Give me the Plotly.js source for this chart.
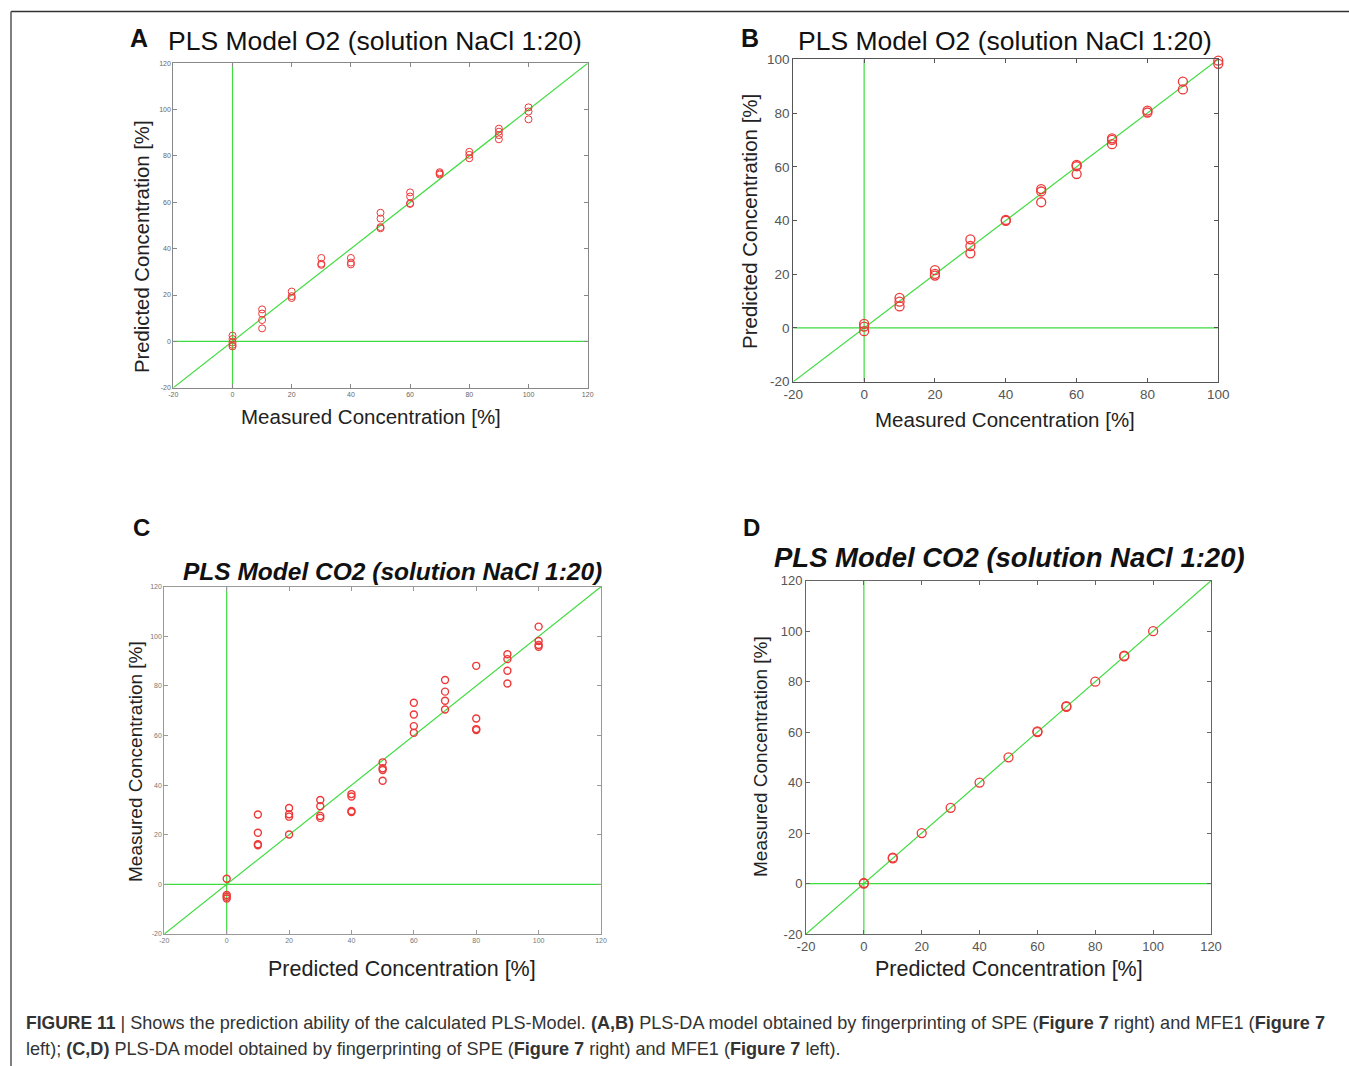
<!DOCTYPE html>
<html>
<head>
<meta charset="utf-8">
<script src="https://cdn.plot.ly/plotly-3.0.1.min.js"></script>
<style>html,body{margin:0;padding:0;background:#fff;}#fig{width:1349px;height:1066px;}</style>
</head>
<body>
<div id="fig"></div>
<script>
// ---- Data ----
// Panel A: PLS Model O2 (measured vs predicted)
const aMeasured  = [0,0,0,0,0, 10,10,10,10, 20,20,20, 30,30,30, 40,40,40, 50,50,50,50, 60,60,60,60, 70,70,70, 80,80,80, 90,90,90,90, 100,100,100];
const aPredicted = [2.5,1,-0.5,-1.5,-2.2, 13.8,12,9.2,5.6, 21.5,19.5,18.7, 36,33.5,33, 36,34,33.2, 55.5,53,49.3,48.8, 64.3,62.5,59.6,59.3, 73,72.5,72, 81.8,80.5,79, 91.8,90.5,89,87.2, 101,99.2,95.8];
// Panel B: PLS Model O2
const bMeasured  = [0,0,0, 10,10,10, 20,20,20, 30,30,30, 40,40, 50,50,50, 60,60,60, 70,70,70, 80,80, 90,90, 100,100];
const bPredicted = [1.5,0.5,-1.2, 11.2,9.8,8, 21.5,20.1,19.5, 33,30.5,27.8, 40.2,39.9, 51.7,50.8,46.8, 60.7,60.2,57.3, 70.6,70,68.4, 80.9,80.2, 91.7,88.8, 99.5,98.3];
// Panel C: PLS Model CO2 (predicted vs measured)
const cPredicted = [0,0,0,0, 10,10,10,10, 20,20,20,20, 30,30,30,30, 40,40,40,40, 50,50,50,50, 60,60,60,60, 70,70,70,70, 80,80,80,80, 90,90,90,90, 100,100,100,100];
const cMeasured  = [2.3,-4.3,-5,-5.7, 28.2,20.8,16.2,15.8, 30.8,28.3,27.3,20.1, 34,31.5,27.6,26.8, 36.4,35.4,29.6,29.2, 49.2,46.8,46.1,41.8, 73.2,68.5,63.8,61.1, 82.4,77.7,74,70.5, 88.1,66.9,62.6,62.2, 92.8,90.8,86.1,81, 103.9,98.1,96.5,95.8];
// Panel D: PLS Model CO2
const dPredicted = [0,0, 10,10, 20, 30, 40, 50, 60,60, 70,70, 80, 90,90, 100];
const dMeasured  = [0,0.2, 10,10.3, 20, 30, 40, 50, 60,60.3, 70,70.3, 80, 90,90.3, 100];

// reference lines (identity, zero lines) per panel: axis limits
const limA = [-20, 120], limB = [-20, 100], limC = [-20, 120], limD = [-20, 120];
const zeroLine = [0, 0];

// tick values and labels
const ticks120 = [-20, 0, 20, 40, 60, 80, 100, 120];
const tickText120 = ['-20', '0', '20', '40', '60', '80', '100', '120'];
const ticks100 = [-20, 0, 20, 40, 60, 80, 100];
const tickText100 = ['-20', '0', '20', '40', '60', '80', '100'];

const titleO2 = 'PLS Model O2 (solution NaCl 1:20)';
const titleCO2 = 'PLS Model CO2 (solution NaCl 1:20)';
const labMeasured = 'Measured Concentration [%]';
const labPredicted = 'Predicted Concentration [%]';
const panelLabels = ['A', 'B', 'C', 'D'];
const caption1 = '<b><span style="font-size:17.5px">FIGURE 11</span></b> | Shows the prediction ability of the calculated PLS-Model. <b>(A,B)</b> PLS-DA model obtained by fingerprinting of SPE (<b>Figure 7</b> right) and MFE1 (<b>Figure 7</b>';
const caption2 = 'left); <b>(C,D)</b> PLS-DA model obtained by fingerprinting of SPE (<b>Figure 7</b> right) and MFE1 (<b>Figure 7</b> left).';

// ---- Styling helpers ----
const W = 1349, H = 1066;
const GREEN = '#3fdc3f', RED = '#ee3838';
const FONT = 'Liberation Sans, Arial, sans-serif';

function refTraces(lim, xa, ya) {
  const ln = {color: GREEN, width: 1.2};
  const base = {type: 'scatter', mode: 'lines', line: ln, xaxis: xa, yaxis: ya, hoverinfo: 'skip', showlegend: false};
  return [
    Object.assign({x: lim, y: lim}, base),
    Object.assign({x: zeroLine, y: lim}, base),
    Object.assign({x: lim, y: zeroLine}, base)
  ];
}
function pts(x, y, xa, ya, size, w) {
  return {type: 'scatter', mode: 'markers', x: x, y: y, xaxis: xa, yaxis: ya, showlegend: false, cliponaxis: false,
    marker: {symbol: 'circle-open', size: size, color: RED, line: {color: RED, width: w}}};
}
function axis(dom, lim, anchor, fs, lc, tc, tv, tt) {
  return {domain: dom, range: lim, anchor: anchor, tickmode: 'array', tickvals: tv, ticktext: tt,
    showgrid: false, zeroline: false,
    showline: true, linecolor: lc, linewidth: 1, mirror: 'allticks', ticks: 'inside', ticklen: 4, tickcolor: lc,
    tickfont: {family: FONT, size: fs, color: tc}, fixedrange: true};
}
const px = v => v / W;
const py = v => 1 - v / H;

const data = [].concat(
  refTraces(limA, 'x', 'y'), [pts(aMeasured, aPredicted, 'x', 'y', 7, 1)],
  refTraces(limB, 'x2', 'y2'), [pts(bMeasured, bPredicted, 'x2', 'y2', 9, 1.3)],
  refTraces(limC, 'x3', 'y3'), [pts(cPredicted, cMeasured, 'x3', 'y3', 7, 1.4)],
  refTraces(limD, 'x4', 'y4'), [pts(dPredicted, dMeasured, 'x4', 'y4', 9, 1.3)]
);

function ann(text, x, y, size, opts) {
  return Object.assign({text: text, x: px(x), y: py(y), xref: 'paper', yref: 'paper', showarrow: false,
    xanchor: 'center', yanchor: 'middle', font: {family: FONT, size: size, color: '#111'}}, opts || {});
}

const annotations = [
  // panel letters
  ann('<b>' + panelLabels[0] + '</b>', 139, 38, 25),
  ann('<b>' + panelLabels[1] + '</b>', 750, 38, 25),
  ann('<b>' + panelLabels[2] + '</b>', 141, 527, 24),
  ann('<b>' + panelLabels[3] + '</b>', 751, 527, 24),
  // titles
  ann(titleO2, 375, 41, 26.5),
  ann(titleO2, 1005, 41, 26.5),
  ann('<b><i>' + titleCO2 + '</i></b>', 392, 571, 24.5),
  ann('<b><i>' + titleCO2 + '</i></b>', 1009, 557, 27.5),
  // axis titles
  ann(labPredicted, 142, 247, 20.3, {textangle: -90, font: {family: FONT, size: 20.3, color: '#222'}}),
  ann(labMeasured, 371, 416, 20.5, {font: {family: FONT, size: 20.5, color: '#222'}}),
  ann(labPredicted, 750, 221, 20.5, {textangle: -90, font: {family: FONT, size: 20.5, color: '#222'}}),
  ann(labMeasured, 1005, 419, 20.5, {font: {family: FONT, size: 20.5, color: '#222'}}),
  ann(labMeasured, 135, 762, 19, {textangle: -90, font: {family: FONT, size: 19, color: '#222'}}),
  ann(labPredicted, 402, 969, 21.5, {font: {family: FONT, size: 21.5, color: '#222'}}),
  ann(labMeasured, 760, 757, 19, {textangle: -90, font: {family: FONT, size: 19, color: '#222'}}),
  ann(labPredicted, 1009, 969, 21.5, {font: {family: FONT, size: 21.5, color: '#222'}}),
  // caption
  ann(caption1, 24, 1023, 18.1, {xanchor: 'left', align: 'left', font: {family: FONT, size: 18.1, color: '#333'}}),
  ann(caption2, 24, 1049, 18.1, {xanchor: 'left', align: 'left', font: {family: FONT, size: 18.1, color: '#333'}})
];

const layout = {
  width: W, height: H, autosize: false,
  margin: {l: 0, r: 0, t: 0, b: 0, pad: 0},
  paper_bgcolor: '#fff', plot_bgcolor: '#fff',
  showlegend: false,
  xaxis:  axis([px(173.3), px(587.7)], limA, 'y', 7, '#888', '#666', ticks120, tickText120),
  yaxis:  axis([py(387.7), py(63.3)], limA, 'x', 7, '#888', '#666', ticks120, tickText120),
  xaxis2: axis([px(793.3), px(1218.3)], limB, 'y2', 13.5, '#555', '#555', ticks100, tickText100),
  yaxis2: axis([py(381.7), py(59.3)], limB, 'x2', 13.5, '#555', '#555', ticks100, tickText100),
  xaxis3: axis([px(164.3), px(601)], limC, 'y3', 7, '#999', '#777', ticks120, tickText120),
  yaxis3: axis([py(934), py(586.7)], limC, 'x3', 7, '#999', '#777', ticks120, tickText120),
  xaxis4: axis([px(806), px(1211)], limD, 'y4', 13, '#666', '#555', ticks120, tickText120),
  yaxis4: axis([py(934), py(580.7)], limD, 'x4', 13, '#666', '#555', ticks120, tickText120),
  annotations: annotations,
  shapes: [
    {type: 'line', xref: 'paper', yref: 'paper', x0: px(11), x1: 1, y0: py(11.5), y1: py(11.5), line: {color: '#333', width: 1.5}},
    {type: 'line', xref: 'paper', yref: 'paper', x0: px(11), x1: px(11), y0: py(11.5), y1: 0, line: {color: '#555', width: 1.5}}
  ]
};

Plotly.newPlot('fig', data, layout, {displayModeBar: false, staticPlot: true});
</script>
</body>
</html>
